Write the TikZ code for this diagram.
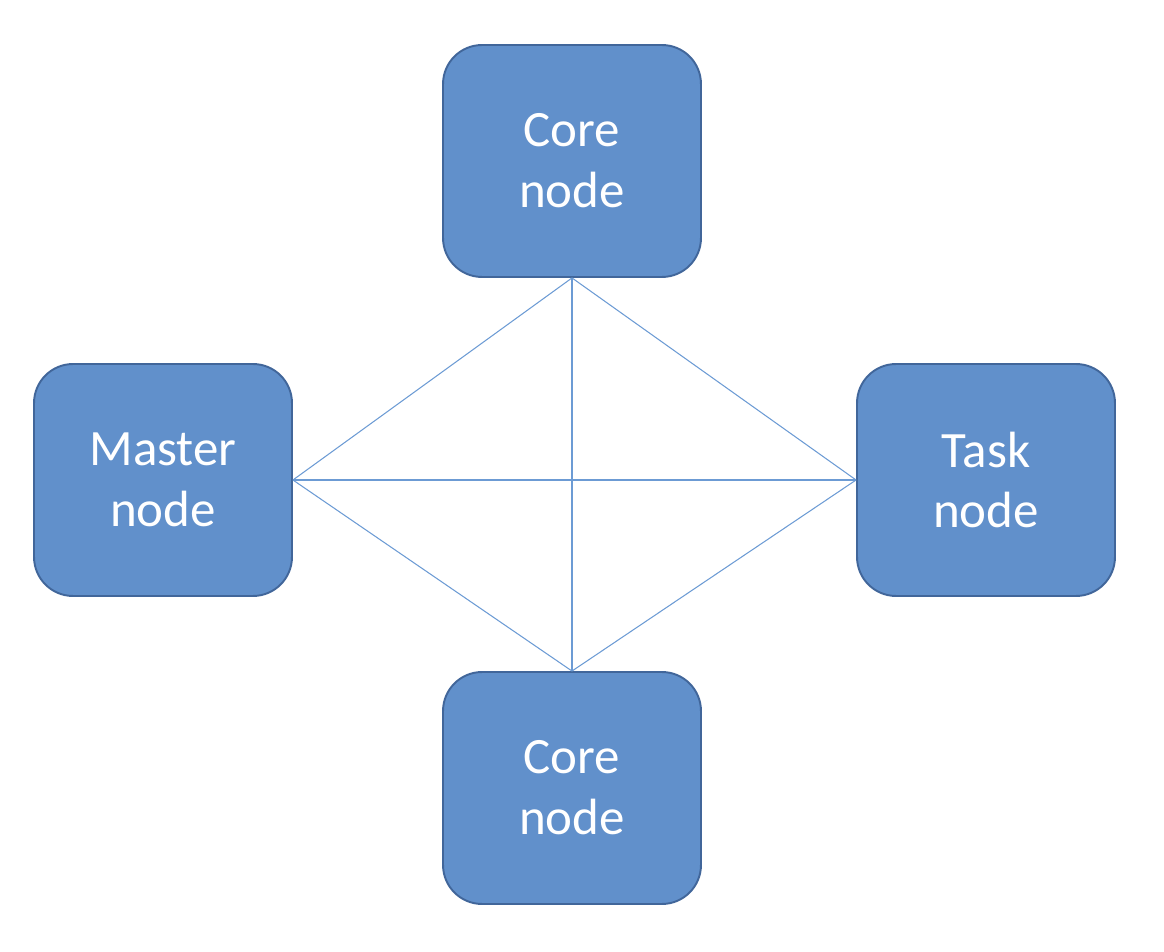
\documentclass[tikz,border=0pt]{standalone}
\usepackage{fontspec}
\setmainfont{Carlito}
\definecolor{boxfill}{HTML}{6190CB}
\definecolor{boxline}{HTML}{41669A}
\definecolor{linkline}{HTML}{6C9BD4}
\tikzset{
    netnode/.style={draw=boxline, line width=1.1pt, fill=boxfill, rounded corners=0.78cm,
        minimum width=5.16cm, minimum height=4.64cm, text=white, align=center,
        font=\fontsize{29}{34.7}\selectfont},
    link/.style={draw=linkline, line width=0.6pt}
}
\begin{document}
\begin{tikzpicture}[x=0.02cm,y=-0.02cm]
    \useasboundingbox (0,0) rectangle (1164,952);
       \node[netnode] (coretop) at (572,161) {Core\\node};
       \node[netnode] (master) at (163,480) {Master\\node};
       \node[netnode] (task) at (986,480) {Task\\node};
       \node[netnode] (corebot) at (572,788) {Core\\node};
          \foreach \a/\b in {coretop.south/master.east, coretop.south/task.west,
                             coretop.south/corebot.north, master.east/task.west,
                             corebot.north/master.east, corebot.north/task.west} {
          \draw[link] (\a) -- (\b);
          }
    \end{tikzpicture}
\end{document}
